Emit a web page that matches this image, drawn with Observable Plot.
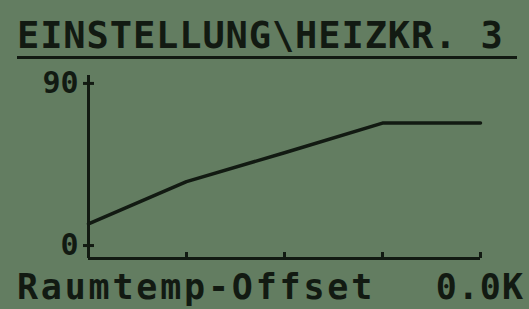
<!DOCTYPE html>
<html>
<head>
<meta charset="utf-8">
<script src="https://cdn.jsdelivr.net/npm/d3@7"></script>
<script src="https://cdn.jsdelivr.net/npm/@observablehq/plot@0.6"></script>
<style>
  html, body { margin: 0; padding: 0; }
  body { width: 529px; height: 309px; background: #637d61; position: relative; overflow: hidden;
         font-family: "DejaVu Sans Mono", "Liberation Mono", monospace; color: #121a12; }
  .t { position: absolute; line-height: 1em; white-space: pre; font-weight: bold; }
  #title { left: 17px; top: 17px; font-size: 37px; letter-spacing: 0.9px; }
  #rule { position: absolute; left: 17px; top: 56px; width: 500px; height: 3px; background: #121a12; }
  #label { left: 17px; top: 270px; font-size: 35px; letter-spacing: 2.8px; }
  #value { right: 5px; top: 270px; font-size: 35px; letter-spacing: 1px; }
  #chart { position: absolute; left: 0; top: 0; }
</style>
</head>
<body>
<div id="title" class="t"></div>
<div id="rule"></div>
<div id="chart"></div>
<div id="label" class="t"></div>
<div id="value" class="t"></div>
<script>
const titleText = "EINSTELLUNG\\HEIZKR. 3";
const bottomLabel = "Raumtemp-Offset";
const bottomValue = "0.0K";
const xPoints = [0, 1, 2, 3, 4];
const yValues = [12, 35.5, 51.5, 68, 68];
const yTicks = [0, 90];
const xTicks = [1, 2, 3, 4];
const xDomain = [0, 4];
const yDomain = [-7.2, 94.4];

document.getElementById("title").textContent = titleText;
document.getElementById("label").textContent = bottomLabel;
document.getElementById("value").textContent = bottomValue;

const data = xPoints.map((x, i) => ({x, y: yValues[i]}));
const ink = "#121a12";

const plot = Plot.plot({
  width: 529,
  height: 309,
  marginLeft: 88,
  marginRight: 49,
  marginTop: 75,
  marginBottom: 51,
  x: {domain: xDomain},
  y: {domain: yDomain},
  style: {background: "transparent", color: ink, fontFamily: "'DejaVu Sans Mono', monospace", fontSize: "30px", fontWeight: "bold"},
  marks: [
    Plot.ruleX([xDomain[0]], {y1: yDomain[0], y2: yDomain[1], stroke: ink, strokeWidth: 3}),
    Plot.ruleY([yDomain[0]], {x1: xDomain[0], x2: xDomain[1], stroke: ink, strokeWidth: 3}),
    Plot.axisY({ticks: yTicks, tickSize: 11, dx: 6, tickPadding: 5, strokeWidth: 3, label: null, fill: ink, stroke: ink}),
    Plot.axisX({ticks: xTicks, tickSize: 6, dy: -6, tickFormat: () => "", label: null, strokeWidth: 3, stroke: ink}),
    Plot.line(data, {x: "x", y: "y", stroke: ink, strokeWidth: 3.5})
  ]
});
document.getElementById("chart").appendChild(plot);
</script>
</body>
</html>
